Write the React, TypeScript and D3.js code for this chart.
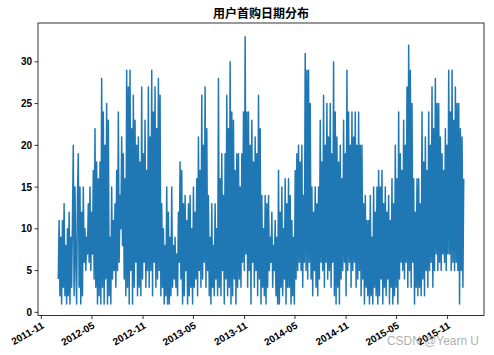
import React from "react";
import * as d3 from "d3";

// ---- data (one sample every 3 days from 2012-01-01) ----
const seriesStart = "2012-01-01";
const sampleStepDays = 3;
const firstPurchaseCounts: number[] = [
  4,11,2,9,1,11,3,13,2,8,1,10,
  2,12,1,9,3,11,20,2,15,6,1,14,
  19,3,15,1,12,2,15,6,10,5,9,7,
  13,6,15,5,12,7,17,4,22,3,18,1,
  16,2,18,1,28,3,24,1,20,4,25,1,
  23,2,9,1,15,4,11,5,13,3,17,5,
  24,6,14,10,21,8,19,4,16,2,29,3,
  27,1,29,5,22,1,26,3,23,6,20,2,
  21,3,18,2,27,4,19,6,23,3,17,5,
  27,3,21,5,29,2,24,6,27,3,22,4,
  28,5,26,2,13,3,10,1,8,2,15,1,
  12,1,9,2,15,3,8,4,9,3,7,2,
  12,6,18,4,17,1,13,2,14,5,11,1,
  13,2,14,3,10,1,15,3,12,4,16,2,
  21,5,17,3,26,4,20,6,27,3,22,5,
  14,2,9,1,13,3,8,2,13,4,10,2,
  28,3,16,2,19,5,14,1,19,4,26,2,
  22,3,30,1,24,2,23,4,17,1,19,3,
  19,4,15,3,19,6,24,5,33,7,24,3,
  24,5,20,1,23,6,18,3,21,5,19,2,
  26,4,22,1,14,3,10,2,14,1,13,3,
  14,5,9,6,12,3,8,5,11,2,9,1,
  17,1,12,3,15,2,10,4,16,1,13,3,
  16,3,14,1,11,2,9,1,17,4,19,5,
  20,6,18,5,20,3,14,6,31,5,29,4,
  29,6,25,4,15,2,12,5,15,3,13,2,
  15,4,23,6,18,5,26,3,20,6,25,4,
  21,5,25,3,19,6,30,2,24,1,21,3,
  18,1,20,4,16,5,23,6,19,2,29,5,
  24,6,20,3,24,5,21,6,24,3,20,4,
  24,5,20,2,20,4,13,1,14,3,11,2,
  11,1,14,2,9,1,15,3,12,2,15,1,
  17,2,15,4,17,1,13,3,15,2,12,4,
  14,1,11,3,16,1,13,2,20,3,16,1,
  24,4,19,6,17,5,23,4,20,6,27,3,
  32,5,29,3,25,6,16,1,12,3,16,2,
  16,3,13,2,24,4,18,2,21,5,17,3,
  24,5,20,6,27,3,22,5,28,7,25,5,
  25,6,21,5,19,7,17,6,22,5,20,7,
  29,7,24,5,29,6,23,5,27,6,25,5,
  25,1,22,5,21,3,16,
];
const xTickLabels = ["2011-11","2012-05","2012-11","2013-05","2013-11","2014-05","2014-11","2015-05","2015-11"];
const yTickValues = [0, 5, 10, 15, 20, 25, 30];
const chartTitle = "用户首购日期分布";
const watermark = "CSDN @Yearn U";

const W = 494, H = 355;
const M = { left: 38, right: 484, top: 23, bottom: 315.5 };

export default function App() {
  const parseDay = d3.timeParse("%Y-%m-%d");
  const parseMonth = d3.timeParse("%Y-%m");
  const start = parseDay(seriesStart) as Date;
  const points = firstPurchaseCounts.map((v, i) => ({
    date: d3.timeDay.offset(start, i * sampleStepDays),
    value: v,
  }));
  const [d0, d1] = d3.extent(points, (p) => p.date) as [Date, Date];
  const pad = (d1.getTime() - d0.getTime()) * 0.05;
  const x = d3
    .scaleTime()
    .domain([new Date(d0.getTime() - pad), new Date(d1.getTime() + pad)])
    .range([M.left, M.right]);
  const y = d3.scaleLinear().domain([-0.38, 34.65]).range([M.bottom, M.top]);

  const line = d3
    .line<{ date: Date; value: number }>()
    .x((p) => x(p.date))
    .y((p) => y(p.value));

  const tickFont = "'Liberation Sans', Arial, sans-serif";

  return (
    <svg
      width={W}
      height={H}
      style={{ position: "absolute", left: 0, top: 0, background: "#fff" }}
    >
      <rect x={0} y={0} width={W} height={H} fill="#fff" />
      <text
        x={(M.left + M.right) / 2}
        y={17.5}
        textAnchor="middle"
        fontFamily="'Noto Sans CJK SC', sans-serif"
        fontWeight={700}
        fontSize={12}
        fill="#000"
      >
        {chartTitle}
      </text>
      <defs>
        <clipPath id="plotclip">
          <rect x={M.left} y={M.top} width={M.right - M.left} height={M.bottom - M.top} />
        </clipPath>
      </defs>
      <path
        d={line(points) || ""}
        fill="none"
        stroke="#1f77b4"
        strokeWidth={1.5}
        strokeLinejoin="round"
        clipPath="url(#plotclip)"
      />
      <rect
        x={M.left}
        y={M.top}
        width={M.right - M.left}
        height={M.bottom - M.top}
        fill="none"
        stroke="#000"
        strokeWidth={0.8}
      />
      {yTickValues.map((v) => (
        <g key={v}>
          <line x1={M.left - 3.5} x2={M.left} y1={y(v)} y2={y(v)} stroke="#000" strokeWidth={0.8} />
          <text
            x={M.left - 6}
            y={y(v)}
            dy="0.35em"
            textAnchor="end"
            fontFamily={tickFont}
            fontWeight={700}
            fontSize={10}
            fill="#000"
          >
            {v}
          </text>
        </g>
      ))}
      {xTickLabels.map((lbl) => {
        const tx = x(parseMonth(lbl) as Date);
        return (
          <g key={lbl}>
            <line x1={tx} x2={tx} y1={M.bottom} y2={M.bottom + 3.5} stroke="#000" strokeWidth={0.8} />
            <text
              transform={`translate(${tx},${M.bottom + 6}) rotate(-30)`}
              textAnchor="end"
              dy="0.7em"
              fontFamily={tickFont}
              fontWeight={700}
              fontSize={10}
              fill="#000"
            >
              {lbl}
            </text>
          </g>
        );
      })}
      <text
        x={387}
        y={345}
        fontFamily="'Liberation Sans', Arial, sans-serif"
        fontSize={13.5}
        textLength={92}
        lengthAdjust="spacingAndGlyphs"
        fill="rgba(160,160,160,0.85)"
      >
        {watermark}
      </text>
    </svg>
  );
}
